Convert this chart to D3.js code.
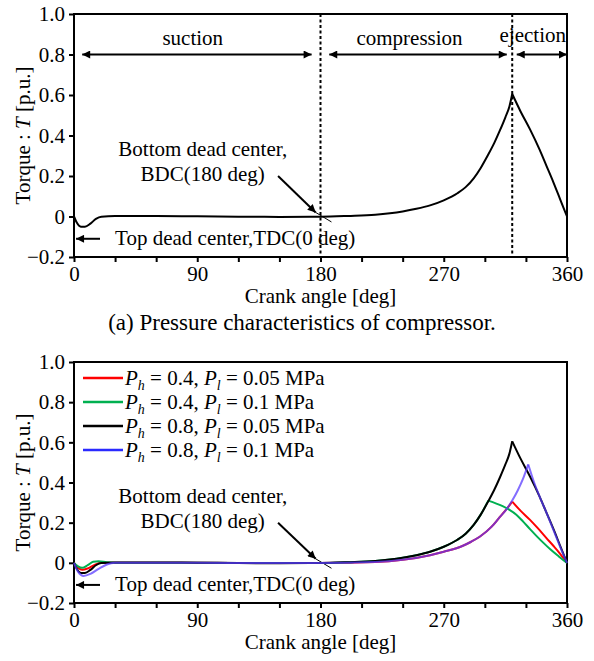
<!DOCTYPE html>
<html>
<head>
<meta charset="utf-8">
<script src="https://cdn.jsdelivr.net/npm/d3@7"></script>
<style>
  body { margin: 0; background: #fff; }
  svg text { font-family: 'Liberation Serif', 'Times New Roman', Times, 'DejaVu Serif', serif; fill: #000; }
</style>
</head>
<body>
<svg id="chart" width="594" height="661"></svg>
<script>
const w = 594
const h = 661
const serif = "'Liberation Serif', 'Times New Roman', Times, 'DejaVu Serif', serif"

// crank angle ticks
const xTicks = [0, 30, 60, 90, 120, 150, 180, 210, 240, 270, 300, 330, 360]
const xTickLabels = [0, 90, 180, 270, 360]
const yTicks = [-0.2, 0, 0.2, 0.4, 0.6, 0.8, 1.0]

// Ph = 0.8, Pl = 0.05 MPa (black, also panel a)
const angleBlack = [0, 2, 5, 8, 12, 16, 20, 30, 60, 90, 120, 150, 180, 200, 220, 240, 250, 260, 270, 280, 286, 292, 297, 302, 307, 311, 315, 318, 320, 326, 333, 340, 345, 350, 355, 360]
const torqueBlack = [0, -0.03, -0.05, -0.05, -0.035, -0.012, -0.001, 0.002, 0.002, 0.001, -0.001, -0.002, -0.001, 0.003, 0.009, 0.025, 0.038, 0.055, 0.08, 0.115, 0.145, 0.19, 0.24, 0.30, 0.365, 0.425, 0.49, 0.545, 0.605, 0.52, 0.43, 0.33, 0.25, 0.17, 0.085, 0]

// Ph = 0.8, Pl = 0.1 MPa (blue)
const angleBlue = [0, 3, 7, 12, 18, 24, 30, 60, 120, 180, 220, 240, 260, 270, 284, 290, 296.5, 305, 310, 316.7, 320, 324, 328, 331.7, 336, 340, 345, 350, 355, 360]
const torqueBlue = [0, -0.045, -0.065, -0.055, -0.03, -0.008, 0, 0.001, -0.001, -0.001, 0.004, 0.015, 0.038, 0.055, 0.085, 0.105, 0.131, 0.18, 0.22, 0.275, 0.31, 0.36, 0.42, 0.49, 0.4, 0.33, 0.25, 0.165, 0.08, 0]

// Ph = 0.4, Pl = 0.05 MPa (red)
const angleRed = [0, 3, 6, 10, 15, 20, 30, 60, 120, 180, 220, 240, 260, 270, 284, 290, 296.5, 305, 310, 316.7, 320, 326, 333, 339, 345, 350, 355, 360]
const torqueRed = [0, -0.025, -0.035, -0.028, -0.01, 0, 0.001, 0.001, -0.001, -0.001, 0.004, 0.015, 0.038, 0.055, 0.085, 0.105, 0.131, 0.18, 0.22, 0.275, 0.305, 0.26, 0.214, 0.17, 0.123, 0.085, 0.045, 0]

// Ph = 0.4, Pl = 0.1 MPa (green)
const angleGreen = [0, 3, 6, 10, 14, 18, 24, 30, 60, 120, 180, 200, 220, 240, 250, 260, 270, 280, 286, 292, 297, 302.5, 308, 313, 318, 323, 328, 333, 338, 343, 348, 354, 360]
const torqueGreen = [0, -0.018, -0.025, -0.012, 0.005, 0.008, 0.003, 0.001, 0.001, -0.001, -0.001, 0.003, 0.009, 0.025, 0.038, 0.055, 0.08, 0.115, 0.145, 0.19, 0.24, 0.31, 0.296, 0.282, 0.264, 0.24, 0.205, 0.168, 0.132, 0.098, 0.066, 0.032, 0]

const phValues = ['0.4', '0.4', '0.8', '0.8']
const plValues = ['0.05', '0.1', '0.05', '0.1']
const seriesColors = ['#ff0000', '#00b050', '#000000', '#2a2aff']
const blueCurveColor = '#5a3cff'

const svg = d3.select('#chart')

svg.append('defs')
    .append('marker')
    .attr('id', 'arrow')
    .attr('viewBox', '0 0 10 10')
    .attr('refX', 10)
    .attr('refY', 5)
    .attr('markerWidth', 11)
    .attr('markerHeight', 8)
    .attr('markerUnits', 'userSpaceOnUse')
    .attr('orient', 'auto-start-reverse')
    .append('path')
    .attr('d', 'M0,0 L10,5 L0,10 z')
    .attr('fill', '#000')

function zip(a, b) {
    return a.map((d, i) => [d, b[i]])
}

// split a series at its peak so the cusp stays sharp
function pieces(a, b) {
    const pts = zip(a, b)
    const k = d3.maxIndex(b)
    return [pts.slice(0, k + 1), pts.slice(k)]
}

function drawPanel(top, bottom) {
    const xScale = d3.scaleLinear()
        .domain([0, 360])
        .range([74, 567])
    const yScale = d3.scaleLinear()
        .domain([-0.2, 1.0])
        .range([bottom, top])

    const g = svg.append('g')

    const xAxis = d3.axisBottom(xScale)
        .tickValues(xTicks)
        .tickSize(5)
        .tickPadding(4)
        .tickFormat(d => xTickLabels.includes(d) ? d : '')
    const yAxis = d3.axisLeft(yScale)
        .tickValues(yTicks)
        .tickSize(5)
        .tickPadding(4)
        .tickFormat(d => d === 0 ? '0' : d < 0 ? '\u2212' + Math.abs(d).toFixed(1) : d.toFixed(1))

    const gx = g.append('g')
        .attr('transform', `translate(0, ${bottom})`)
        .call(xAxis)
    const gy = g.append('g')
        .attr('transform', 'translate(74, 0)')
        .call(yAxis)
    ;[gx, gy].forEach(a => {
        a.attr('font-family', serif).attr('font-size', 21)
        a.select('.domain').remove()
        a.selectAll('line').attr('stroke-width', 2)
        a.selectAll('text').attr('fill', '#000')
    })

    g.append('rect')
        .attr('x', xScale(0))
        .attr('y', yScale(1.0))
        .attr('width', xScale(360) - xScale(0))
        .attr('height', yScale(-0.2) - yScale(1.0))
        .attr('fill', 'none')
        .attr('stroke', '#000')
        .attr('stroke-width', 2)

    g.append('text')
        .attr('x', (xScale(0) + xScale(360)) / 2)
        .attr('y', bottom + 46)
        .attr('text-anchor', 'middle')
        .attr('font-size', 21)
        .text('Crank angle [deg]')

    const yt = g.append('text')
        .attr('transform', `translate(30, ${(top + bottom) / 2}) rotate(-90)`)
        .attr('text-anchor', 'middle')
        .attr('font-size', 21)
    yt.append('tspan').text('Torque : ')
    yt.append('tspan').attr('font-style', 'italic').text('T')
    yt.append('tspan').text(' [p.u.]')

    // BDC note
    g.append('text')
        .attr('x', xScale(94))
        .attr('y', yScale(0.30))
        .attr('text-anchor', 'middle')
        .attr('font-size', 21)
        .text('Bottom dead center,')
    g.append('text')
        .attr('x', xScale(94))
        .attr('y', yScale(0.175))
        .attr('text-anchor', 'middle')
        .attr('font-size', 21)
        .text('BDC(180 deg)')
    g.append('line')
        .attr('x1', xScale(149)).attr('y1', yScale(0.2))
        .attr('x2', xScale(176.5)).attr('y2', yScale(0.02))
        .attr('stroke', '#000').attr('stroke-width', 2)
        .attr('marker-end', 'url(#arrow)')
    g.append('line')
        .attr('x1', xScale(176.5)).attr('y1', yScale(0.02))
        .attr('x2', xScale(188)).attr('y2', yScale(-0.027))
        .attr('stroke', '#000').attr('stroke-width', 1)

    // TDC note
    g.append('text')
        .attr('x', xScale(30))
        .attr('y', yScale(-0.14))
        .attr('font-size', 21)
        .text('Top dead center,TDC(0 deg)')
    g.append('line')
        .attr('x1', xScale(19)).attr('y1', yScale(-0.11))
        .attr('x2', xScale(1.5)).attr('y2', yScale(-0.11))
        .attr('stroke', '#000').attr('stroke-width', 2)
        .attr('marker-end', 'url(#arrow)')

    const line = d3.line()
        .x(d => xScale(d[0]))
        .y(d => yScale(d[1]))
        .curve(d3.curveMonotoneX)

    return { g, xScale, yScale, line }
}

// (a) panel
const pa = drawPanel(14, 257)

;[180, 320].forEach(a => {
    pa.g.append('line')
        .attr('x1', pa.xScale(a)).attr('x2', pa.xScale(a))
        .attr('y1', pa.yScale(1.0)).attr('y2', pa.yScale(-0.2))
        .attr('stroke', '#000')
        .attr('stroke-width', 2)
        .attr('stroke-dasharray', '3,2.5')
})

const phases = [
    { name: 'suction', from: 6, to: 173.5, label: 86.7, ly: 0.847 },
    { name: 'compression', from: 186.4, to: 316, label: 245, ly: 0.847 },
    { name: 'ejection', from: 323.3, to: 360, label: 335, ly: 0.86 }
]
phases.forEach(p => {
    pa.g.append('line')
        .attr('x1', pa.xScale(p.from)).attr('x2', pa.xScale(p.to))
        .attr('y1', pa.yScale(0.8)).attr('y2', pa.yScale(0.8))
        .attr('stroke', '#000').attr('stroke-width', 2)
        .attr('marker-start', 'url(#arrow)')
        .attr('marker-end', 'url(#arrow)')
    pa.g.append('text')
        .attr('x', pa.xScale(p.label))
        .attr('y', pa.yScale(p.ly))
        .attr('text-anchor', 'middle')
        .attr('font-size', 21)
        .text(p.name)
})

pa.g.selectAll('path.curve')
    .data(pieces(angleBlack, torqueBlack))
    .enter()
    .append('path')
    .attr('class', 'curve')
    .attr('d', pa.line)
    .attr('fill', 'none')
    .attr('stroke', '#000')
    .attr('stroke-width', 2)

svg.append('text')
    .attr('x', 302)
    .attr('y', 330)
    .attr('text-anchor', 'middle')
    .attr('font-size', 23)
    .text('(a) Pressure characteristics of compressor.')

// (b) panel
const pb = drawPanel(362, 603)

const curves = [
    { parts: pieces(angleRed, torqueRed), color: seriesColors[0], op: 1 },
    { parts: pieces(angleGreen, torqueGreen), color: seriesColors[1], op: 1 },
    { parts: pieces(angleBlack, torqueBlack), color: seriesColors[2], op: 1 },
    { parts: pieces(angleBlue, torqueBlue), color: blueCurveColor, op: 0.75 }
]
curves.forEach(c => {
    pb.g.selectAll(null)
        .data(c.parts)
        .enter()
        .append('path')
        .attr('d', pb.line)
        .attr('fill', 'none')
        .attr('stroke', c.color)
        .attr('stroke-opacity', c.op)
        .attr('stroke-width', 2)
})

const legend = pb.g.selectAll('g.legend')
    .data(phValues)
    .enter()
    .append('g')
    .attr('class', 'legend')
    .attr('transform', (d, i) => `translate(83, ${378 + i * 24})`)
legend.append('line')
    .attr('x1', 0).attr('x2', 40)
    .attr('stroke', (d, i) => seriesColors[i])
    .attr('stroke-width', 2.5)
legend.each(function (d, i) {
    const t = d3.select(this).append('text')
        .attr('x', 42)
        .attr('y', 7)
        .attr('font-size', 21)
    t.append('tspan').attr('font-style', 'italic').text('P')
    t.append('tspan').attr('font-style', 'italic').attr('font-size', 14).attr('dy', 5).text('h')
    t.append('tspan').attr('dy', -5).text(' = ' + phValues[i] + ', ')
    t.append('tspan').attr('font-style', 'italic').text('P')
    t.append('tspan').attr('font-style', 'italic').attr('font-size', 14).attr('dy', 5).text('l')
    t.append('tspan').attr('dy', -5).text(' = ' + plValues[i] + ' MPa')
})
</script>
</body>
</html>
